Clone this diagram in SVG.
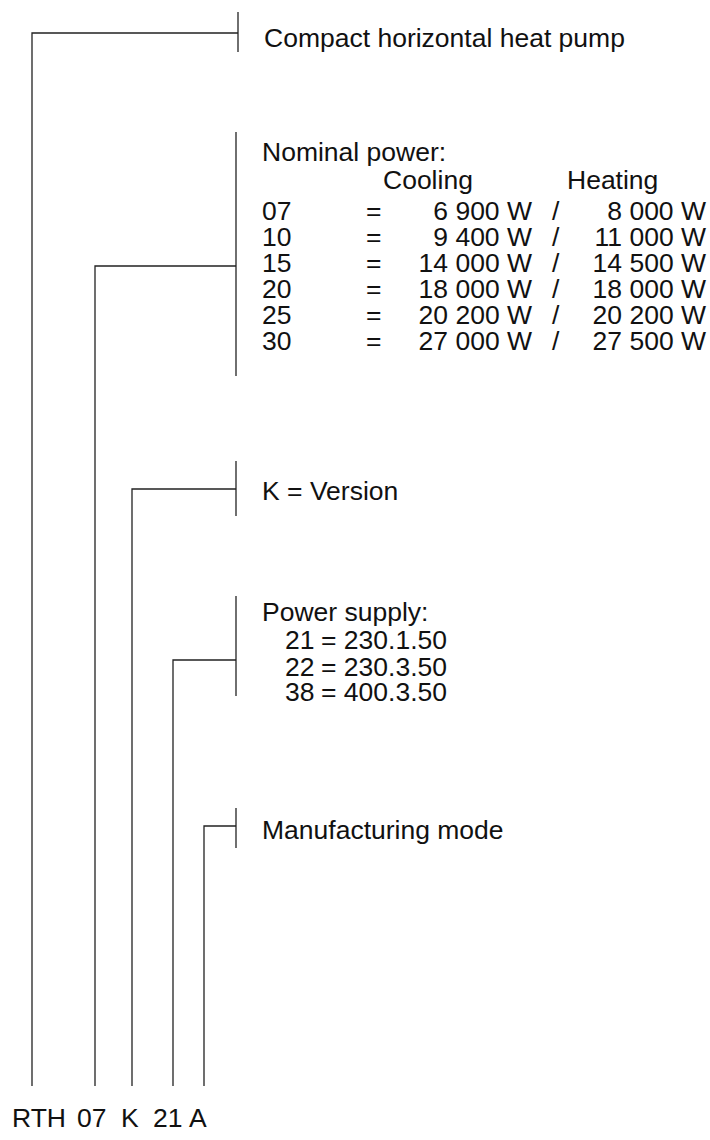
<svg xmlns="http://www.w3.org/2000/svg" width="710" height="1140" viewBox="0 0 710 1140">
<style>
text{font-family:"Liberation Sans",Arial,sans-serif;font-size:26.5px;fill:#111}
.r{text-anchor:end}
.ln{stroke:#222;stroke-width:1.3;fill:none}
</style>
<rect width="710" height="1140" fill="#fff"/>
<g id="connectors" class="ln">
<path d="M32,1086V33H238"/>
<path d="M238,12V52"/>
<path d="M95,1086V266H236"/>
<path d="M236,132V376"/>
<path d="M132,1086V489H236"/>
<path d="M236,461V516"/>
<path d="M173,1086V660H236"/>
<path d="M236,596V696"/>
<path d="M204,1086V826H236"/>
<path d="M236,808V848"/>
</g>
<g id="type">
<text x="264" y="47">Compact horizontal heat pump</text>
</g>
<g id="power">
<text x="262" y="161">Nominal power:</text>
<text x="383" y="189">Cooling</text>
<text x="567" y="189">Heating</text>
<g>
<text x="262" y="220">07</text><text x="366" y="220">=</text><text class="r" x="532" y="220">6 900 W</text><text x="552" y="220">/</text><text class="r" x="706" y="220">8 000 W</text>
<text x="262" y="246">10</text><text x="366" y="246">=</text><text class="r" x="532" y="246">9 400 W</text><text x="552" y="246">/</text><text class="r" x="706" y="246">11 000 W</text>
<text x="262" y="272">15</text><text x="366" y="272">=</text><text class="r" x="532" y="272">14 000 W</text><text x="552" y="272">/</text><text class="r" x="706" y="272">14 500 W</text>
<text x="262" y="298">20</text><text x="366" y="298">=</text><text class="r" x="532" y="298">18 000 W</text><text x="552" y="298">/</text><text class="r" x="706" y="298">18 000 W</text>
<text x="262" y="324">25</text><text x="366" y="324">=</text><text class="r" x="532" y="324">20 200 W</text><text x="552" y="324">/</text><text class="r" x="706" y="324">20 200 W</text>
<text x="262" y="350">30</text><text x="366" y="350">=</text><text class="r" x="532" y="350">27 000 W</text><text x="552" y="350">/</text><text class="r" x="706" y="350">27 500 W</text>
</g>
</g>
<g id="version">
<text x="262" y="500">K = Version</text>
</g>
<g id="supply">
<text x="262" y="621">Power supply:</text>
<text x="285" y="649">21</text><text x="321" y="649">= 230.1.50</text>
<text x="285" y="676">22</text><text x="321" y="676">= 230.3.50</text>
<text x="285" y="701">38</text><text x="321" y="701">= 400.3.50</text>
</g>
<g id="mode">
<text x="262" y="839">Manufacturing mode</text>
</g>
<g id="code">
<text x="12" y="1127">RTH</text><text x="77" y="1127">07</text><text x="121" y="1127">K</text><text x="153" y="1127">21</text><text x="189" y="1127">A</text>
</g>
</svg>
